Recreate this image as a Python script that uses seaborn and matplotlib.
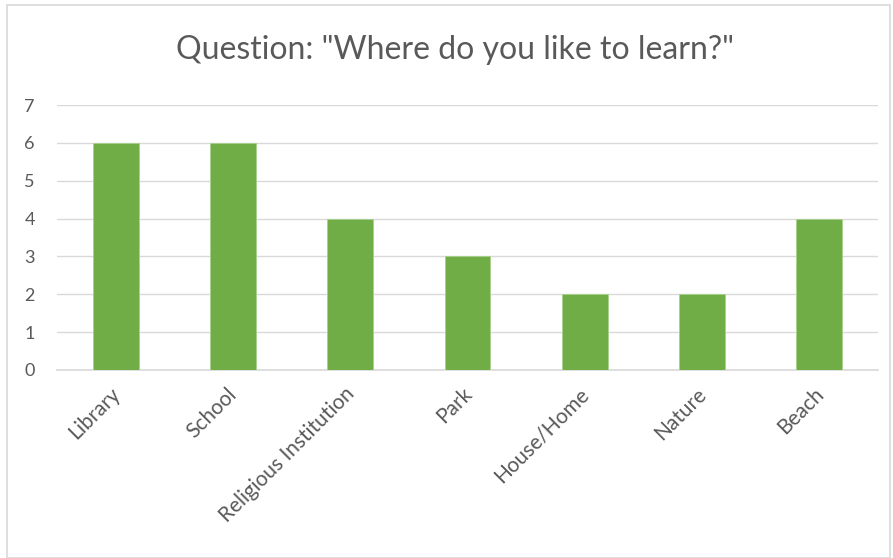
import matplotlib
matplotlib.use("Agg")
import matplotlib.pyplot as plt
import matplotlib.transforms as mtransforms
import seaborn as sns
import pandas as pd
from matplotlib.patches import Rectangle

categories = ["Library", "School", "Religious Institution", "Park", "House/Home", "Nature", "Beach"]
counts = [6, 6, 4, 3, 2, 2, 4]
yticks = [0, 1, 2, 3, 4, 5, 6, 7]
title = 'Question: "Where do you like to learn?"'

df = pd.DataFrame({"place": categories, "count": counts})

sns.set_theme(style="white")
plt.rcParams["font.family"] = ["Lato", "DejaVu Sans"]

W, H = 893, 558
fig = plt.figure(figsize=(W / 100, H / 100), dpi=100)
ax = fig.add_axes([57 / W, 1 - 370 / H, (878 - 57) / W, (370 - 105) / H])

sns.barplot(data=df, x="place", y="count", color="#70AD47", width=0.39,
            saturation=1, ax=ax, zorder=3)
for p in ax.patches:
    p.set_edgecolor("#A9D18E")
    p.set_linewidth(0.6)

ax.set_ylim(0, 7)
ax.set_xlim(-0.5, len(categories) - 0.5)
ax.set_yticks(yticks)
ax.set_yticklabels([str(t) for t in yticks], fontsize=13, color="#595959")
ax.yaxis.grid(True, color="#D9D9D9", linewidth=1)
ax.set_axisbelow(True)
for s in ["top", "right", "left"]:
    ax.spines[s].set_visible(False)
ax.spines["bottom"].set_color("#D9D9D9")
ax.spines["bottom"].set_linewidth(1.2)
ax.tick_params(axis="y", length=0, pad=16)
ax.tick_params(axis="x", length=0, pad=10)
ax.set_xticks(range(len(categories)))
ax.set_xticklabels(categories, rotation=45, ha="right", rotation_mode="anchor",
                   fontsize=15, color="#595959")
shift = mtransforms.ScaledTranslation(-6 / 100, 0, fig.dpi_scale_trans)
for lbl in ax.get_xticklabels():
    lbl.set_transform(lbl.get_transform() + shift)
ax.set_xlabel("")
ax.set_ylabel("")

fig.text(455 / W, 1 - 50 / H, title, ha="center", va="center",
         fontsize=23, color="#595959")

fig.patches.append(Rectangle((7 / W, 0), (890 - 7) / W, 1 - 5 / H,
                             transform=fig.transFigure, fill=False,
                             edgecolor="#D9D9D9", linewidth=1.2))

fig.savefig("out.png", dpi=100)
